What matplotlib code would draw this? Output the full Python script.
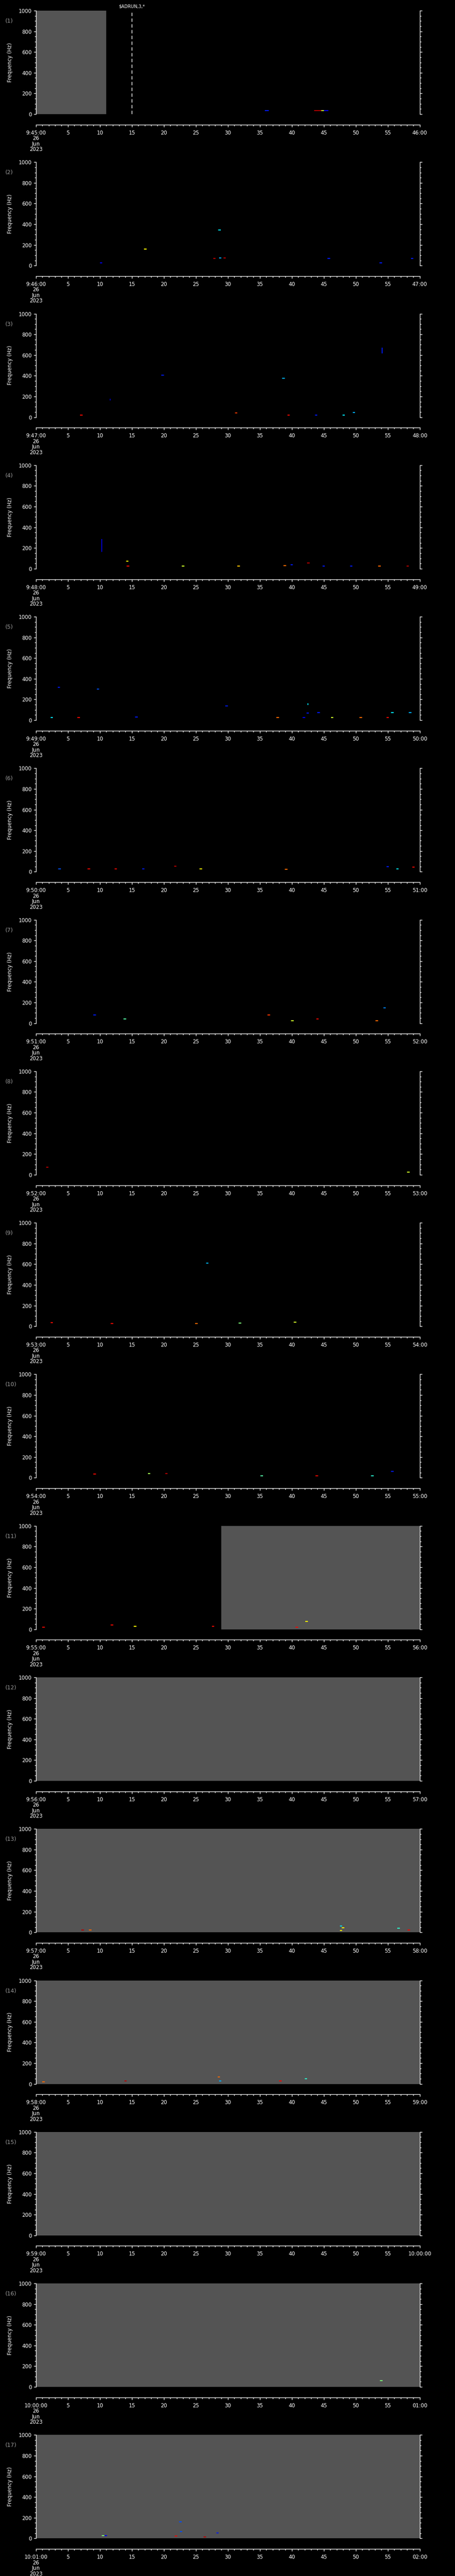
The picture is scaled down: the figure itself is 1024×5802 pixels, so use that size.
import matplotlib
matplotlib.use('Agg')
import matplotlib.pyplot as plt
from matplotlib.ticker import MultipleLocator, FixedLocator

W, H, DPI = 1024, 5802, 100

start_hour, start_min = 9, 45
n_panels = 17
date_text = "26\nJun\n2023"
freq_ticks = [0, 200, 400, 600, 800, 1000]
sec_ticks = [0, 5, 10, 15, 20, 25, 30, 35, 40, 45, 50, 55, 60]

# grey (no-data) spans per panel, in seconds
gap_panel = [1, 11, 12, 13, 14, 15, 16, 17]
gap_t0 = [0, 29, 0, 0, 0, 0, 0, 0]
gap_t1 = [11, 60, 60, 60, 60, 60, 60, 60]

# event marker (panel 1)
event_time = 15
event_label = r"\$ADRUN,3,*"

# point blips per panel: time (s), frequency (Hz), colour level (jet 0..1)
t_02 = [10.2, 17.1, 28.7, 27.9, 28.8, 29.5, 45.8, 53.9, 58.8]
f_02 = [26, 162, 346, 68, 74, 73, 68, 29, 68]
c_02 = [0.1, 0.65, 0.35, 0.95, 0.3, 0.95, 0.15, 0.15, 0.15]

t_03 = [19.8, 38.7, 7.1, 31.3, 39.5, 43.8, 48.1, 49.7]
f_03 = [407, 375, 21, 41, 21, 21, 21, 44]
c_03 = [0.15, 0.3, 0.9, 0.85, 0.9, 0.15, 0.35, 0.3]

t_04 = [14.3, 14.4, 23.0, 31.7, 38.9, 40.0, 42.6, 45.0, 49.3, 53.7, 58.1]
f_04 = [71, 23, 23, 23, 31, 36, 57, 23, 26, 23, 23]
c_04 = [0.65, 0.9, 0.6, 0.7, 0.8, 0.15, 0.95, 0.15, 0.15, 0.8, 0.95]

t_05 = [3.6, 9.7, 29.8, 42.5, 44.2, 55.7, 58.5, 2.5, 6.7, 15.7, 37.8, 41.9, 46.3, 50.8, 55.0]
f_05 = [318, 299, 137, 70, 74, 72, 74, 27, 27, 29, 27, 24, 25, 25, 25]
c_05 = [0.15, 0.2, 0.15, 0.15, 0.15, 0.35, 0.3, 0.35, 0.9, 0.15, 0.8, 0.1, 0.6, 0.8, 0.9]

t_06 = [3.7, 8.3, 12.5, 16.8, 21.8, 25.8, 39.1, 55.0, 56.5, 59.0]
f_06 = [27, 29, 29, 29, 52, 29, 24, 48, 29, 45]
c_06 = [0.2, 0.9, 0.9, 0.15, 0.95, 0.65, 0.8, 0.15, 0.35, 0.9]

t_07 = [9.2, 13.9, 36.4, 40.1, 44.0, 53.3, 54.5]
f_07 = [78, 40, 82, 24, 43, 26, 148]
c_07 = [0.15, 0.45, 0.85, 0.6, 0.9, 0.8, 0.25]

t_08 = [1.8, 58.2]
f_08 = [74, 27]
c_08 = [0.95, 0.6]

t_09 = [26.8, 2.5, 11.9, 25.1, 31.9, 40.5]
f_09 = [611, 36, 26, 26, 31, 39]
c_09 = [0.3, 0.9, 0.9, 0.8, 0.5, 0.6]

t_10 = [9.2, 17.7, 20.4, 35.3, 43.9, 52.6, 55.7]
f_10 = [37, 42, 42, 21, 21, 21, 63]
c_10 = [0.9, 0.55, 0.95, 0.45, 0.9, 0.4, 0.15]

t_11 = [1.2, 11.9, 15.5, 27.7, 42.3, 40.8]
f_11 = [22, 41, 28, 27, 78, 22]
c_11 = [0.9, 0.9, 0.65, 0.9, 0.65, 0.9]

t_13 = [7.3, 8.5, 47.7, 48.0, 47.7, 56.7, 58.3]
f_13 = [24, 24, 63, 45, 19, 40, 24]
c_13 = [0.95, 0.8, 0.35, 0.65, 0.65, 0.4, 0.9]

t_14 = [1.2, 14.0, 28.6, 28.8, 38.2, 42.2]
f_14 = [21, 26, 68, 26, 26, 49]
c_14 = [0.8, 0.95, 0.8, 0.3, 0.9, 0.4]

t_16 = [54.0]
f_16 = [60]
c_16 = [0.5]

t_17 = [21.9, 22.6, 22.7, 26.4, 28.4]
f_17 = [21, 159, 64, 14, 51]
c_17 = [0.9, 0.2, 0.2, 0.95, 0.15]

# horizontal streaks: panel, t0, t1, freq, level
hs_panel = [1, 1, 1, 1, 17, 17]
hs_t0 = [43.5, 44.6, 45.0, 35.8, 10.3, 10.7]
hs_t1 = [44.6, 45.0, 45.7, 36.4, 10.7, 11.1]
hs_f = [33, 33, 33, 33, 28, 27]
hs_c = [0.95, 0.6, 0.1, 0.15, 0.5, 0.1]

# vertical streaks: panel, time, f0, f1, level
vs_panel = [3, 3, 4, 5]
vs_t = [54.1, 11.6, 10.3, 42.5]
vs_f0 = [615, 160, 162, 146]
vs_f1 = [670, 178, 286, 165]
vs_c = [0.15, 0.05, 0.08, 0.35]

blips = {2: (t_02, f_02, c_02), 3: (t_03, f_03, c_03), 4: (t_04, f_04, c_04),
         5: (t_05, f_05, c_05), 6: (t_06, f_06, c_06), 7: (t_07, f_07, c_07),
         8: (t_08, f_08, c_08), 9: (t_09, f_09, c_09), 10: (t_10, f_10, c_10),
         11: (t_11, f_11, c_11), 13: (t_13, f_13, c_13), 14: (t_14, f_14, c_14),
         16: (t_16, f_16, c_16), 17: (t_17, f_17, c_17)}

cmap = plt.get_cmap('jet')
FS = 8.5
PX = 72.0 / DPI  # points per pixel

fig = plt.figure(figsize=(W / DPI, H / DPI), dpi=DPI, facecolor='black')

X0, XW = 80.7, 864.0
PH = 233.0
STEP = 341.27
TOP0 = 24.0

for k in range(n_panels):
    p = k + 1
    top = TOP0 + k * STEP
    bot = top + PH
    ax = fig.add_axes([X0 / W, 1 - bot / H, XW / W, PH / H])
    ax.set_facecolor('black')
    ax.set_xlim(0, 60)
    ax.set_ylim(0, 1000)

    for gp, a, b in zip(gap_panel, gap_t0, gap_t1):
        if gp == p:
            ax.axvspan(a, b, color='#545454', lw=0, zorder=1)

    if p in blips:
        t, f, c = blips[p]
        ax.scatter(t, f, c=[cmap(v) for v in c], marker='_', s=16,
                   linewidths=1.6, zorder=3)
    for hp, a, b, fr, cv in zip(hs_panel, hs_t0, hs_t1, hs_f, hs_c):
        if hp == p:
            ax.hlines(fr, a, b, colors=[cmap(cv)], lw=1.5, zorder=3)
    for vp, tt, f0, f1, cv in zip(vs_panel, vs_t, vs_f0, vs_f1, vs_c):
        if vp == p:
            ax.vlines(tt, f0, f1, colors=[cmap(cv)], lw=1.4, zorder=3)

    if p == 1:
        ax.axvline(event_time, ymin=0, ymax=0.99, color='white', lw=1.1,
                   ls=(0, (5, 3.5)), zorder=4)
        ax.text(event_time, 1000 + 9.5 / PH * 1000, event_label, color='white',
                fontsize=7, ha='center', va='center', clip_on=False)

    # spines
    for s in ax.spines.values():
        s.set_color('white')
        s.set_linewidth(1.0)
    ax.spines['top'].set_visible(False)
    ax.spines['bottom'].set_position(('outward', 23.7 * PX))

    # x ticks
    minute = start_min + k
    hh = start_hour + minute // 60
    mm = minute % 60
    end_min = minute + 1
    eh, em = start_hour + end_min // 60, end_min % 60
    end_label = f"{em:02d}:00" if eh == hh else f"{eh}:{em:02d}:00"
    labels = [f"{hh}:{mm:02d}:00\n{date_text}"] + [str(s) for s in sec_ticks[1:-1]] + [end_label]
    ax.xaxis.set_major_locator(FixedLocator(sec_ticks))
    ax.xaxis.set_minor_locator(MultipleLocator(1))
    ax.set_xticklabels(labels, linespacing=0.95)
    ax.tick_params(axis='x', which='major', direction='out', length=5 * PX, width=1.0,
                   colors='white', labelsize=FS, pad=7 * PX)
    ax.tick_params(axis='x', which='minor', direction='out', length=3 * PX, width=1.0,
                   colors='white')

    # y ticks
    ax.yaxis.set_major_locator(FixedLocator(freq_ticks))
    ax.yaxis.set_minor_locator(MultipleLocator(50))
    ax.tick_params(axis='y', which='both', left=True, right=True, labelleft=True,
                   labelright=False, direction='out', colors='white', width=1.0)
    ax.tick_params(axis='y', which='major', length=5 * PX, labelsize=FS, pad=4 * PX)
    ax.tick_params(axis='y', which='minor', length=3 * PX)

    ax.text((23 - X0) / XW, 0.5, 'Frequency (Hz)', transform=ax.transAxes,
            rotation=90, color='white', fontsize=FS, ha='center', va='center')
    ax.text((12 - X0) / XW, 1 - 23.5 / PH, f"({p})", transform=ax.transAxes,
            color='#9a9a9a', fontsize=9, ha='left', va='center')

fig.savefig('out.png', dpi=DPI, facecolor='black')
